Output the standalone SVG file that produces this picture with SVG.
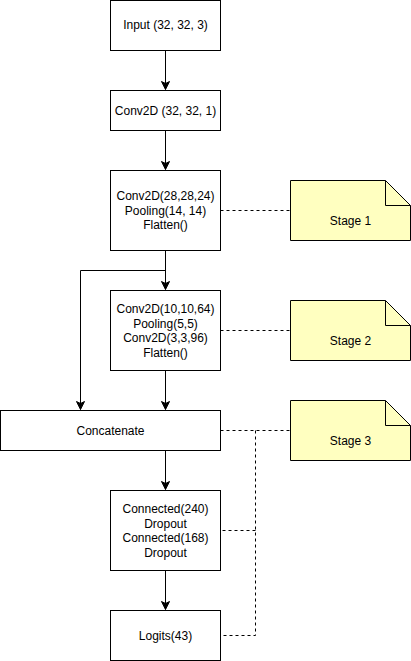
<svg xmlns="http://www.w3.org/2000/svg" width="411" height="661" viewBox="0 0 411 661">
<style>
.box{fill:#ffffff;stroke:#000000;stroke-width:1}
.note{fill:#ffffc0;stroke:#000000;stroke-width:1}
.t{font-family:"Liberation Sans",Arial,sans-serif;font-size:12px;fill:#000000;text-anchor:middle}
.e{fill:none;stroke:#000000;stroke-width:1}
.d{fill:none;stroke:#000000;stroke-width:1;stroke-dasharray:3 3}
</style>
<defs>
<marker id="arr" markerUnits="userSpaceOnUse" markerWidth="10" markerHeight="10" viewBox="0 0 10 10" refX="9" refY="5" orient="auto">
<path d="M1,1 L9,5 L1,9 L3,5 Z" fill="#000000" stroke="#000000" stroke-width="1"/>
</marker>
</defs>
<g id="connectors">
<path class="e" d="M165.5,50.5 V89.5" marker-end="url(#arr)"/>
<path class="e" d="M165.5,130.5 V169.5" marker-end="url(#arr)"/>
<path class="e" d="M165.5,250.5 V289.5" marker-end="url(#arr)"/>
<path class="e" d="M165.5,270.5 H80.5 V409.5" marker-end="url(#arr)"/>
<path class="e" d="M165.5,370.5 V409.5" marker-end="url(#arr)"/>
<path class="e" d="M165.5,450.5 V489.5" marker-end="url(#arr)"/>
<path class="e" d="M165.5,570.5 V609.5" marker-end="url(#arr)"/>
<path class="d" d="M220.5,210.5 H290.5"/>
<path class="d" d="M220.5,330.5 H290.5"/>
<path class="d" d="M220.5,430.5 H290.5"/>
<path class="d" d="M255.5,430.5 V635.5 H220.5"/>
<path class="d" d="M255.5,530.5 H220.5"/>
</g>
<g id="input">
<rect class="box" x="110.5" y="0.5" width="110" height="50"/>
<text class="t" x="165.5" y="29">Input (32, 32, 3)</text>
</g>
<g id="conv1">
<rect class="box" x="110.5" y="90.5" width="110" height="40"/>
<text class="t" x="165.5" y="114.5">Conv2D (32, 32, 1)</text>
</g>
<g id="stage1block">
<rect class="box" x="110.5" y="170.5" width="110" height="80"/>
<text class="t" x="165.5" y="200">Conv2D(28,28,24)</text>
<text class="t" x="165.5" y="214.5">Pooling(14, 14)</text>
<text class="t" x="165.5" y="229">Flatten()</text>
</g>
<g id="stage2block">
<rect class="box" x="110.5" y="290.5" width="110" height="80"/>
<text class="t" x="165.5" y="313">Conv2D(10,10,64)</text>
<text class="t" x="165.5" y="327.5">Pooling(5,5)</text>
<text class="t" x="165.5" y="342">Conv2D(3,3,96)</text>
<text class="t" x="165.5" y="356.5">Flatten()</text>
</g>
<g id="concatenate">
<rect class="box" x="0.5" y="410.5" width="220" height="40"/>
<text class="t" x="110.5" y="434.5">Concatenate</text>
</g>
<g id="connected">
<rect class="box" x="110.5" y="490.5" width="110" height="80"/>
<text class="t" x="165.5" y="513">Connected(240)</text>
<text class="t" x="165.5" y="527.5">Dropout</text>
<text class="t" x="165.5" y="542">Connected(168)</text>
<text class="t" x="165.5" y="556.5">Dropout</text>
</g>
<g id="logits">
<rect class="box" x="110.5" y="610.5" width="110" height="50"/>
<text class="t" x="165.5" y="639.5">Logits(43)</text>
</g>
<g id="note1">
<path class="note" d="M290.5,180.5 H385.5 L410.5,205.5 V240.5 H290.5 Z"/>
<path class="e" d="M385.5,180.5 V205.5 H410.5"/>
<text class="t" x="350.5" y="224.5">Stage 1</text>
</g>
<g id="note2">
<path class="note" d="M290.5,300.5 H385.5 L410.5,325.5 V360.5 H290.5 Z"/>
<path class="e" d="M385.5,300.5 V325.5 H410.5"/>
<text class="t" x="350.5" y="344.5">Stage 2</text>
</g>
<g id="note3">
<path class="note" d="M290.5,400.5 H385.5 L410.5,425.5 V460.5 H290.5 Z"/>
<path class="e" d="M385.5,400.5 V425.5 H410.5"/>
<text class="t" x="350.5" y="444.5">Stage 3</text>
</g>
</svg>
